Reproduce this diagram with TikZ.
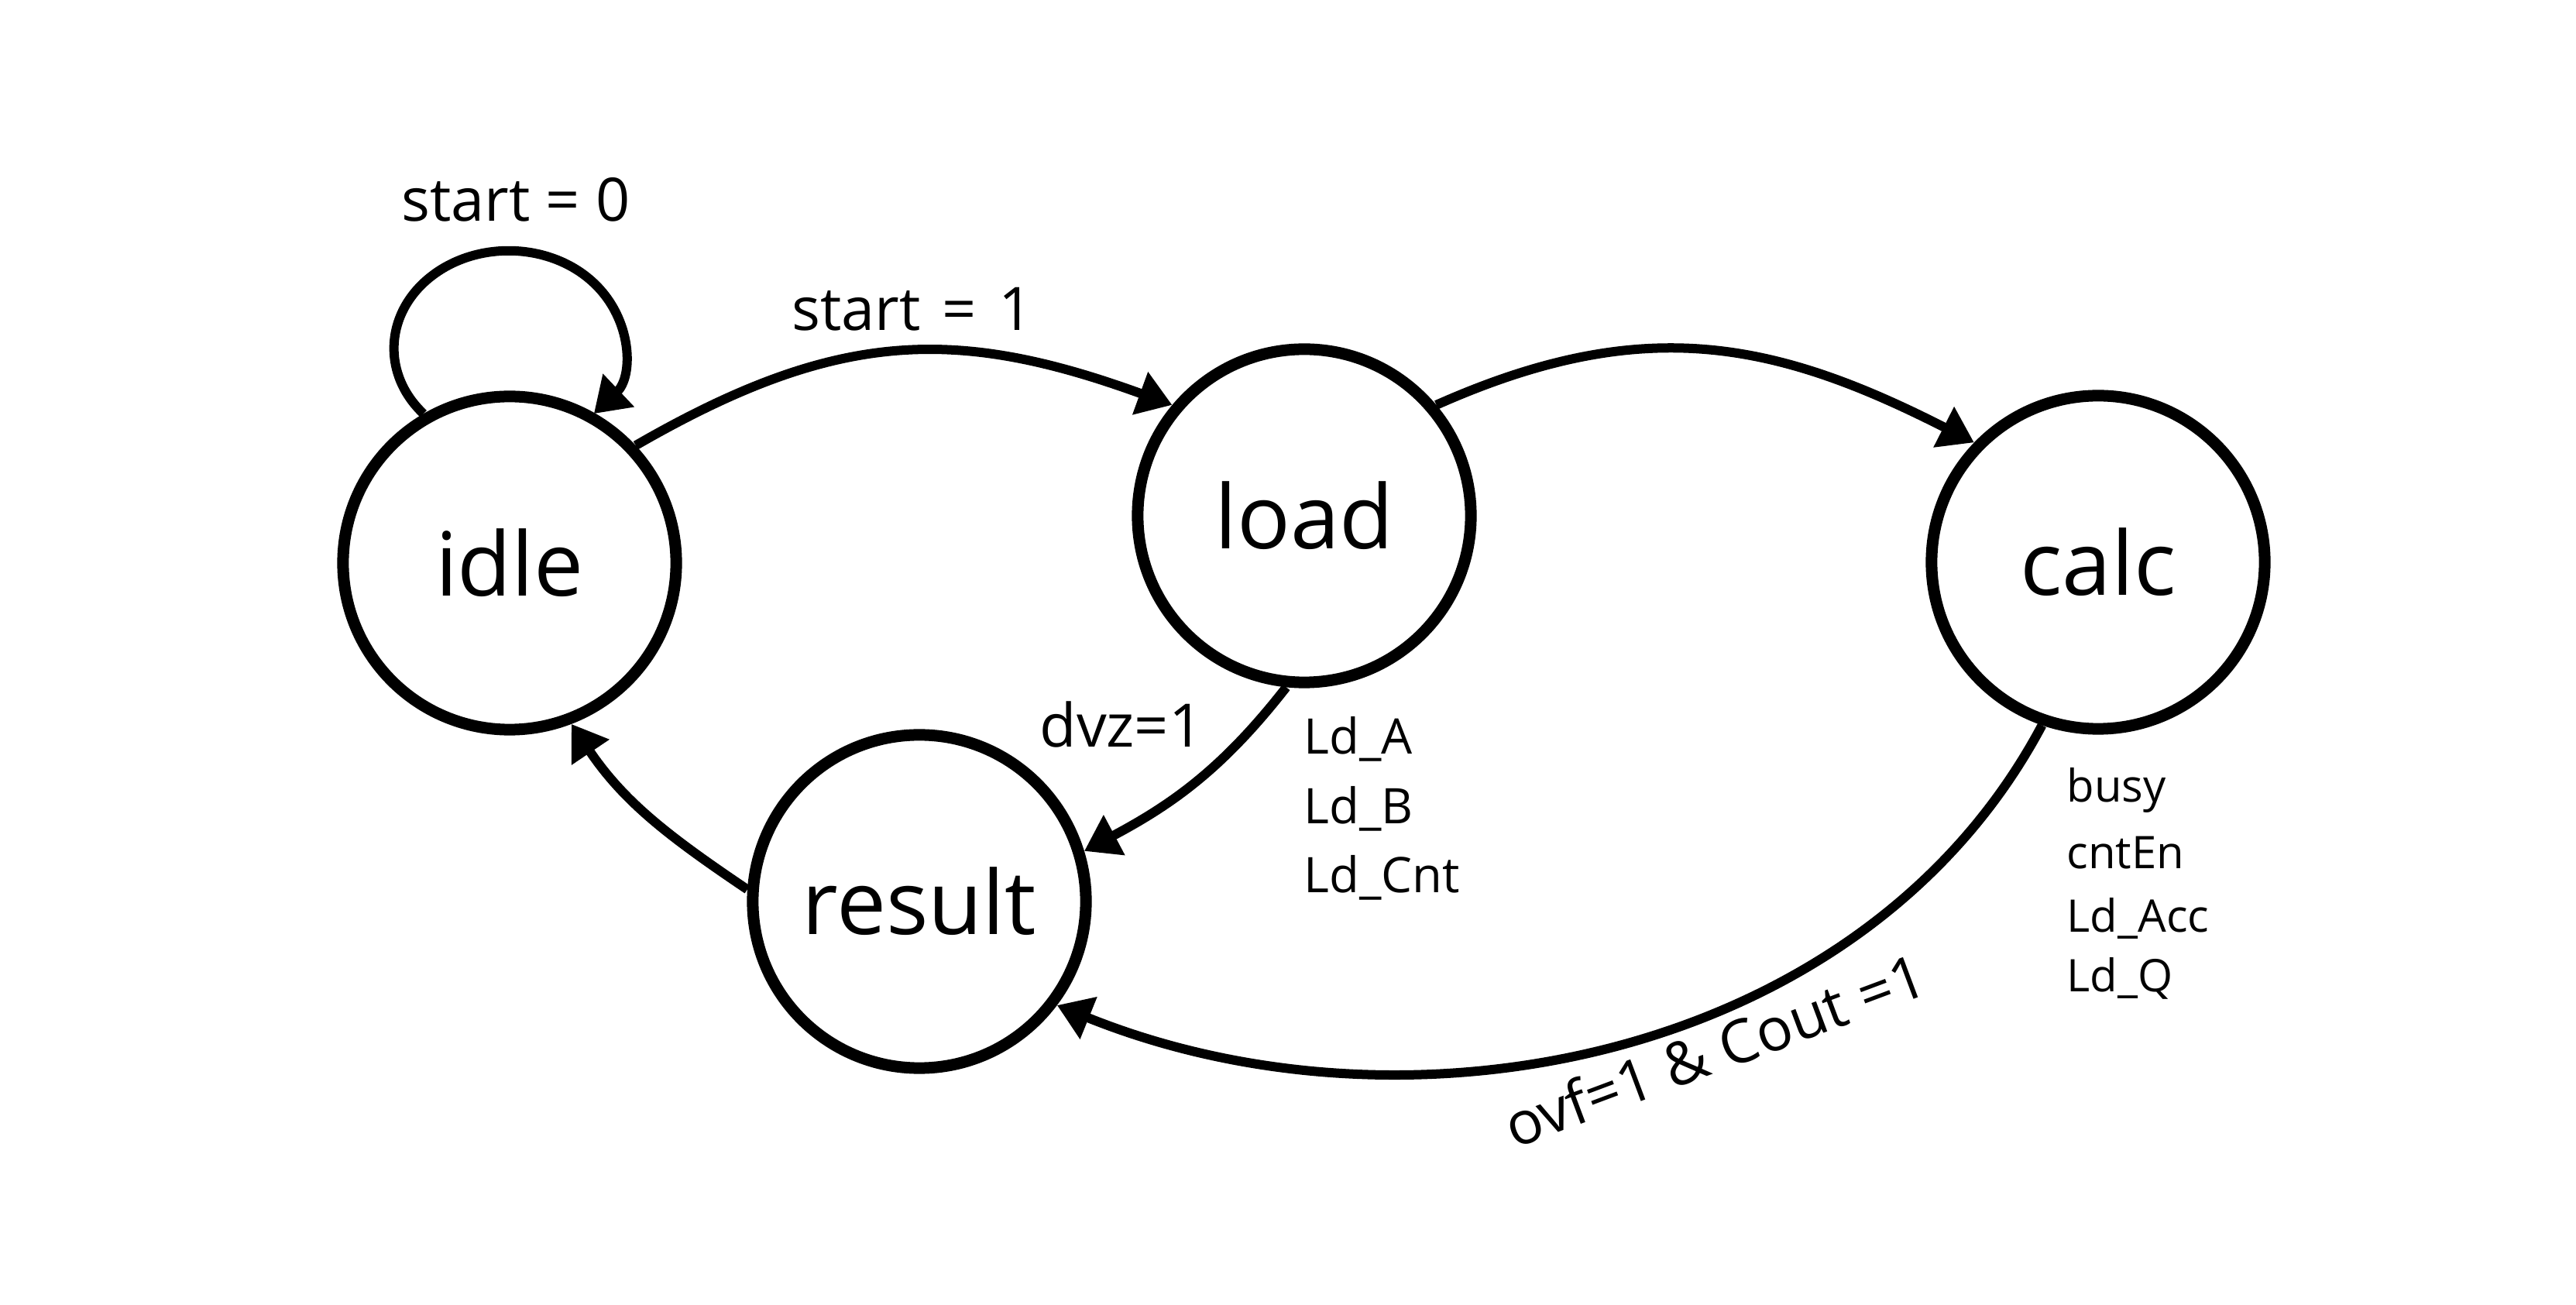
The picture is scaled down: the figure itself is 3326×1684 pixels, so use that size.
\documentclass[tikz,border=0pt]{standalone}
\usepackage{fontspec}
\setmainfont{Open Sans}
\usetikzlibrary{arrows.meta}
\tikzset{
  state/.style={circle, draw, line width=0.15cm, minimum size=4.3cm, inner sep=0pt,
    font=\fontsize{32.5}{39}\selectfont},
  trans/.style={line width=0.12cm, -{Triangle[length=0.44cm,width=0.56cm]}},
  lbl/.style={inner sep=0pt, font=\fontsize{22}{26}\selectfont},
  outa/.style={inner sep=0pt, anchor=base west, font=\fontsize{18}{21}\selectfont},
  outb/.style={inner sep=0pt, anchor=base west, font=\fontsize{16.5}{20}\selectfont}
}
\begin{document}
\begin{tikzpicture}[x=0.01cm, y=0.01cm]
\useasboundingbox (0,0) rectangle (3326,1684);
\fill[white] (0,0) rectangle (3326,1684);

\node[state] (idle) at (658,957) {idle};
\node[state] (load) at (1684,1018) {load};
\node[state] (calc) at (2709,958) {calc};
\node[state] (result) at (1187,520) {result};

\draw[trans] (idle.120) arc[start angle=222, end angle=-42, x radius=1.48cm, y radius=1.26cm];
\draw[trans] (idle.43) to[out=30,in=160,looseness=1.1] (load.140);
\draw[trans] (load.40) to[out=24,in=153,looseness=1.07] (calc.136);
\draw[trans] (load.264) to[out=232,in=28] (result.17);
\draw[trans] (calc.251) to[out=242,in=338,looseness=0.95] (result.323);
\draw[trans] (result.176) to[out=146,in=304] (idle.291);

\node[lbl, anchor=base] (s0) at (666,1398) {start = 0};
\node[lbl, anchor=base] (s1) at (1178,1257) {start\hspace{0.28cm}=\hspace{0.28cm}1};
\node[lbl, anchor=base] (dvz) at (1448,719) {dvz=1};
\node[lbl, rotate=20.5, anchor=base] (ovf) at (2224,301) {ovf=1 \& Cout =1};

\node[outa] (lda) at (1683,710) {Ld\_A};
\node[outa] (ldb) at (1683,620) {Ld\_B};
\node[outa] (ldc) at (1683,531) {Ld\_Cnt};

\node[outb] (busy) at (2668,648) {busy};
\node[outb] (cnten) at (2668,562) {cntEn};
\node[outb] (ldacc) at (2668,480) {Ld\_Acc};
\node[outb] (ldq) at (2668,403) {Ld\_Q};
\end{tikzpicture}
\end{document}
